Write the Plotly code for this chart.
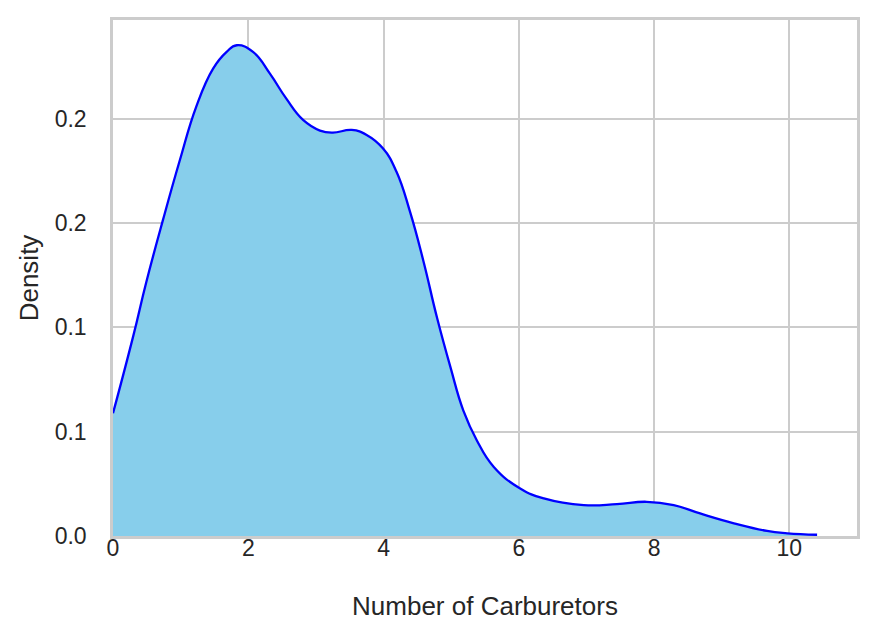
import plotly.graph_objects as go

# Density curve (x = number of carburetors, y = density)
carb_x = [0.0, 0.30, 0.49, 0.74, 0.99, 1.23, 1.48, 1.68, 1.83, 2.07, 2.32, 2.56,
          2.81, 3.06, 3.25, 3.53, 3.75, 3.99, 4.19, 4.39, 4.59, 4.79, 4.99, 5.18,
          5.38, 5.63, 6.02, 6.37, 6.96, 7.45, 7.89, 8.29, 8.68, 9.18, 9.67,
          9.97, 10.41]
density_y = [0.0588, 0.0959, 0.1214, 0.1516, 0.1803, 0.2057, 0.2240, 0.2320, 0.2352,
             0.2320, 0.2216, 0.2097, 0.1994, 0.1943, 0.1933, 0.1946, 0.1922, 0.1858,
             0.1747, 0.1556, 0.1317, 0.1047, 0.0808, 0.0601, 0.0458, 0.0331,
             0.0228, 0.0180, 0.0148, 0.0153, 0.0164, 0.0148, 0.0108, 0.0061, 0.0024,
             0.0013, 0.0006]

x_ticks = [0, 2, 4, 6, 8, 10]
y_ticks = [0.0, 0.05, 0.10, 0.15, 0.20]
y_tick_labels = ["0.0", "0.1", "0.1", "0.2", "0.2"]

fig = go.Figure()
fig.add_trace(go.Scatter(
    x=carb_x, y=density_y, mode="lines",
    line=dict(color="#0000FF", width=2.3, shape="spline", smoothing=1.3),
    fill="tozeroy", fillcolor="#87CEEB", showlegend=False,
))

font_family = "Liberation Sans, Arial, sans-serif"
fig.update_layout(
    width=875, height=638,
    margin=dict(l=105, r=26, t=9, b=110),
    paper_bgcolor="white", plot_bgcolor="white",
    font=dict(family=font_family, color="#262626", size=23),
)
fig.update_xaxes(
    range=[0, 11], tickvals=x_ticks, ticks="",
    showgrid=True, gridcolor="#cccccc", gridwidth=2,
    showline=True, mirror=True, linecolor="#cccccc", linewidth=2.5,
    zeroline=False, tickfont=dict(size=23), ticklabelstandoff=-10,
    title=dict(text="Number of Carburetors", font=dict(size=26), standoff=37),
)
fig.update_yaxes(
    range=[0, 0.2473], tickvals=y_ticks, ticktext=y_tick_labels, ticks="",
    showgrid=True, gridcolor="#cccccc", gridwidth=2,
    showline=True, mirror=True, linecolor="#cccccc", linewidth=2.5,
    zeroline=False, tickfont=dict(size=23), ticklabelstandoff=19,
    title=dict(text="Density", font=dict(size=26), standoff=9),
)
fig.write_html("out.html")
